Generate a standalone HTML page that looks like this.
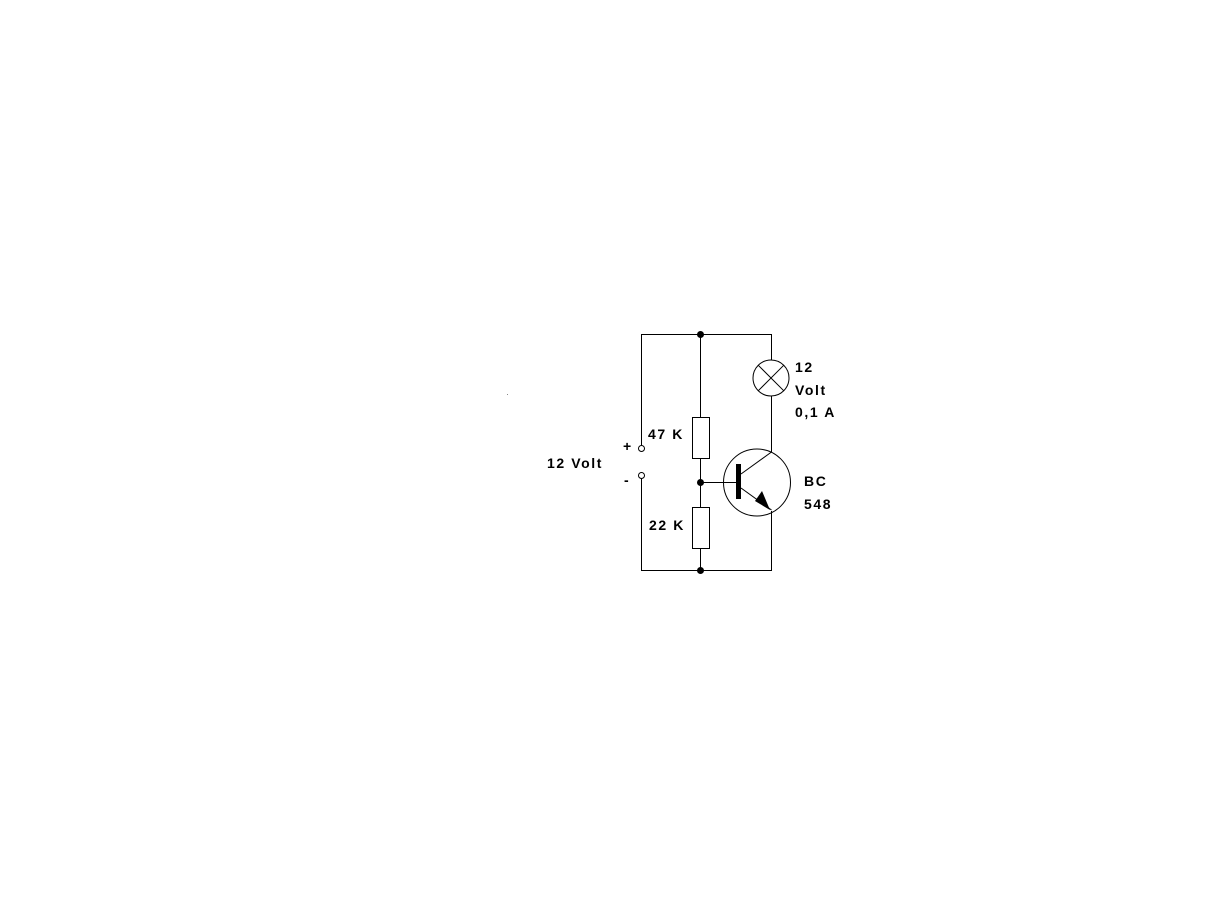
<!DOCTYPE html>
<html><head><meta charset="utf-8"><style>
html,body{margin:0;padding:0;background:#fff;}
svg{display:block}
text{font-family:"Liberation Sans",Arial,sans-serif;font-weight:bold;font-size:14px;fill:#000;letter-spacing:1.6px}
</style></head><body>
<svg width="1218" height="916" viewBox="0 0 1218 916" xmlns="http://www.w3.org/2000/svg">
<g stroke="#000" stroke-width="1" fill="none">
<path d="M641.5 445 V334.5 H771.5 V360"/>
<path d="M641.5 478 V570.5 H771.5 V511"/>
<path d="M700.5 334 V417"/>
<path d="M700.5 458 V507"/>
<path d="M700.5 548 V570"/>
<path d="M771.5 396 V452"/>
<circle cx="771" cy="378" r="18"/>
<path d="M758.3 365.3 L783.7 390.7 M783.7 365.3 L758.3 390.7"/>
<rect x="692.5" y="417.5" width="17" height="41"/>
<rect x="692.5" y="507.5" width="17" height="41"/>
<circle cx="641.5" cy="448.5" r="3"/>
<circle cx="641.5" cy="475.5" r="3"/>
<circle cx="757" cy="482.5" r="33.5"/>
<path d="M700 482.5 H737"/>
<path d="M741 474 L771.5 452"/>
<path d="M741 488 L771.5 510"/>
</g>
<rect x="736" y="464" width="5" height="35" fill="#000"/>
<polygon points="770,510 755,501 762,491" fill="#000"/>
<g fill="#000">
<circle cx="700.5" cy="334.5" r="3.5"/>
<circle cx="700.5" cy="482.5" r="3.5"/>
<circle cx="700.5" cy="570.5" r="3.5"/>
<rect x="507" y="394" width="1" height="1" fill="#888"/>
</g>
<text x="547" y="468">12 Volt</text>
<text x="648" y="439">47 K</text>
<text x="649" y="530">22 K</text>
<text x="623" y="451">+</text>
<text x="624" y="485">-</text>
<text x="795" y="372">12</text>
<text x="795" y="395">Volt</text>
<text x="795" y="417">0,1 A</text>
<text x="804" y="486">BC</text>
<text x="804" y="509">548</text>
</svg>
</body></html>
